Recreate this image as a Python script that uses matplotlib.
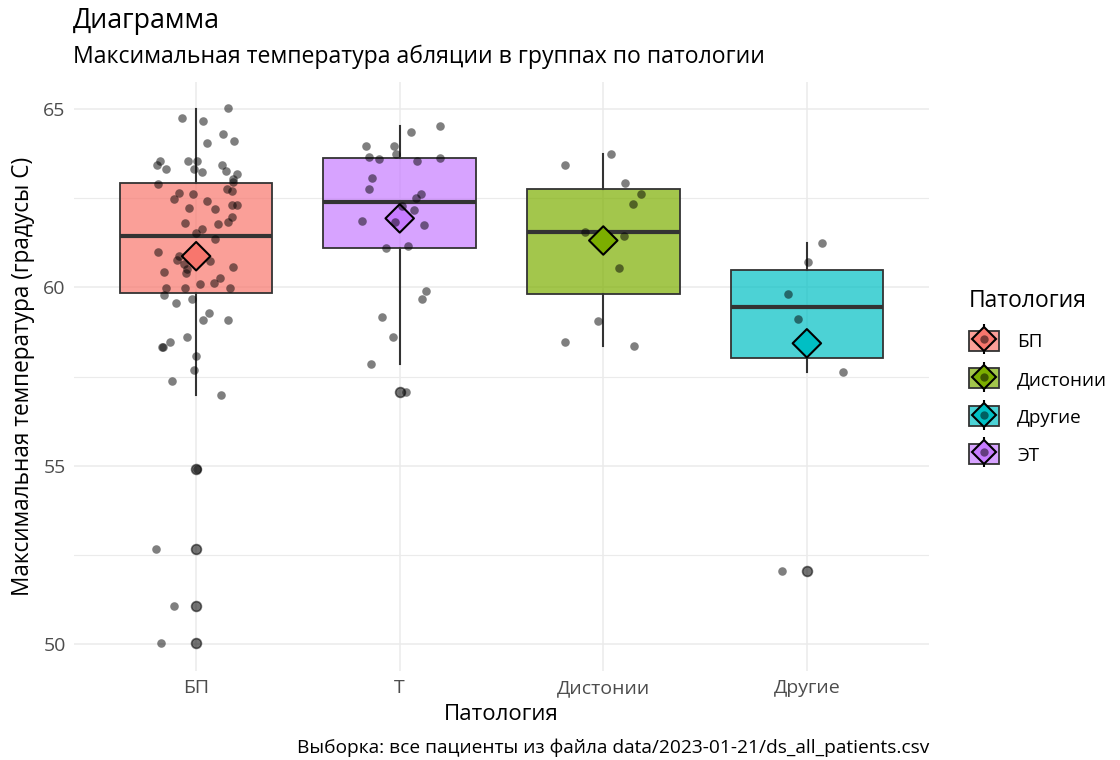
import numpy as np
import matplotlib
matplotlib.use("Agg")
import matplotlib.pyplot as plt
from matplotlib.patches import Patch
from matplotlib.lines import Line2D
from matplotlib.legend_handler import HandlerTuple

plt.rcParams["font.family"] = ["Open Sans", "DejaVu Sans"]

# --- data -------------------------------------------------------------------
groups = ["БП", "Т", "Дистонии", "Другие"]          # x axis order
group_keys = ["БП", "ЭТ", "Дистонии", "Другие"]    # names used in the legend
colors = ["#F8766D", "#C77CFF", "#7CAE00", "#00BFC4"]

# box statistics per group
q1 = [59.84, 61.11, 59.80, 58.01]
med = [61.43, 62.38, 61.55, 59.44]
q3 = [62.93, 63.62, 62.75, 60.49]
whislo = [56.97, 57.85, 58.36, 57.63]
whishi = [65.00, 64.51, 63.72, 61.24]
means = [60.87, 61.93, 61.31, 58.43]

# outliers (drawn at the group centre)
out_bp = [54.91, 52.67, 51.07, 50.03]
out_t = [57.06]
out_dist = []
out_other = [52.05]

# per-patient max temperatures with their jitter offsets
vals_bp = [65.01, 64.73, 64.66, 64.28, 64.11, 64.03, 63.53, 63.42, 63.30, 63.55,
           63.54, 63.32, 63.22, 63.43, 63.27, 63.16, 63.04, 62.94, 62.89, 62.76,
           62.69, 62.65, 62.61, 62.48, 62.42, 62.30, 62.30, 62.23, 62.18, 61.97,
           61.84, 61.81, 61.76, 61.63, 61.52, 61.34, 60.99, 60.87, 60.77, 60.66,
           60.73, 60.57, 60.44, 60.50, 60.40, 60.26, 60.12, 60.09, 59.98, 59.98,
           59.97, 59.78, 59.56, 59.67, 59.28, 59.09, 59.07, 58.48, 58.33, 58.33,
           58.61, 58.07, 57.67, 57.38, 56.97, 54.91, 52.67, 51.07, 50.03]
jit_bp = [0.158, -0.069, 0.033, 0.131, 0.188, 0.052, -0.180, -0.193, -0.147, -0.039,
          0.006, -0.010, 0.029, 0.127, 0.147, 0.199, 0.180, 0.183, -0.185, 0.150,
          0.178, -0.082, -0.013, -0.108, 0.054, 0.175, 0.199, -0.034, 0.092, 0.176,
          0.157, -0.054, 0.109, 0.029, -0.003, 0.095, -0.185, -0.085, -0.095, -0.062,
          0.070, 0.181, -0.158, -0.043, -0.049, 0.119, 0.090, 0.018, -0.148, -0.057,
          0.168, -0.157, -0.101, -0.021, 0.062, 0.034, 0.157, -0.126, -0.167, -0.165,
          -0.047, 0.000, -0.010, -0.121, 0.121, 0.002, -0.196, -0.108, -0.173]

vals_t = [64.51, 64.36, 63.97, 63.95, 63.73, 63.64, 63.58, 63.63, 63.53, 63.07,
          62.76, 62.62, 62.51, 62.29, 62.17, 61.87, 61.82, 61.75, 61.09, 61.15,
          59.89, 59.66, 59.17, 58.61, 57.85, 57.06]
jit_t = [0.196, 0.054, -0.168, -0.029, -0.016, -0.150, -0.101, 0.199, 0.085, -0.134,
         -0.152, 0.103, 0.082, 0.011, 0.070, -0.183, -0.025, 0.118, -0.069, 0.043,
         0.131, 0.108, -0.088, -0.033, -0.142, 0.029]

vals_dist = [63.72, 63.43, 62.91, 62.60, 62.33, 61.54, 61.43, 60.54, 59.05, 58.48, 58.36]
jit_dist = [0.040, -0.186, 0.109, 0.183, 0.147, -0.092, 0.104, 0.075, -0.028, -0.190, 0.150]

vals_other = [61.24, 60.72, 59.80, 59.10, 57.63, 52.05]
jit_other = [0.074, 0.006, -0.095, -0.044, 0.178, -0.124]

# --- figure -----------------------------------------------------------------
fig = plt.figure(figsize=(11.2, 7.6), dpi=100)
ax = fig.add_axes([74 / 1120, 89 / 760, 855 / 1120, 589 / 760])

pos = np.arange(1, len(groups) + 1)
stats = [dict(q1=a, med=b, q3=c, whislo=d, whishi=e, fliers=[])
         for a, b, c, d, e in zip(q1, med, q3, whislo, whishi)]
bp = ax.bxp(stats, positions=pos, widths=0.75, patch_artist=True,
            showcaps=False, showfliers=False,
            boxprops=dict(edgecolor="#333333", linewidth=1.3),
            whiskerprops=dict(color="#333333", linewidth=1.5),
            medianprops=dict(color="#333333", linewidth=3.0, solid_capstyle="butt"),
            zorder=2)
for patch, c in zip(bp["boxes"], colors):
    patch.set_facecolor(matplotlib.colors.to_rgba(c, 0.7))

# outliers from the box plot layer
for p, o in zip(pos, [out_bp, out_t, out_dist, out_other]):
    if o:
        ax.scatter(np.full(len(o), p), o, s=50, color="black", alpha=0.55,
                   linewidths=1.2, zorder=3)

# group means
ax.scatter(pos, means, marker="D", s=210, c=colors, edgecolors="black",
           linewidths=1.5, zorder=4)

# jittered raw values
for p, v, j in zip(pos, [vals_bp, vals_t, vals_dist, vals_other],
                   [jit_bp, jit_t, jit_dist, jit_other]):
    ax.scatter(p + np.asarray(j), v, s=38, color="black", alpha=0.5,
               linewidths=0, zorder=5)

ax.set_xlim(0.4, 4.6)
ax.set_ylim(49.25, 65.75)
ax.set_yticks([50, 55, 60, 65])
ax.set_yticks([52.5, 57.5, 62.5], minor=True)
ax.set_xticks(pos)
ax.set_xticklabels(groups)
ax.grid(True, which="major", color="#EBEBEB", linewidth=1.1)
ax.grid(True, which="minor", axis="y", color="#EBEBEB", linewidth=0.8)
ax.set_axisbelow(True)
for s in ax.spines.values():
    s.set_visible(False)
ax.tick_params(which="both", length=0, labelsize=14, labelcolor="#4D4D4D", pad=6)

ax.set_xlabel("Патология", fontsize=16, labelpad=5)
ax.set_ylabel("Максимальная температура (градусы С)", fontsize=16.3, labelpad=6)

fig.text(73 / 1120, 1 - 28 / 760, "Диаграмма", fontsize=19.3, va="baseline")
fig.text(73 / 1120, 1 - 63 / 760, "Максимальная температура абляции в группах по патологии",
         fontsize=16.6, va="baseline")
fig.text(929 / 1120, 1 - 753 / 760,
         "Выборка: все пациенты из файла data/2023-01-21/ds_all_patients.csv",
         fontsize=13.8, ha="right", va="baseline")

# legend keys combine box fill, whisker, mean diamond and a point
order = [0, 2, 3, 1]
handles = []
for i in order:
    handles.append((
        Line2D([], [], marker="|", markersize=21, markeredgewidth=1.5,
               color="black", linestyle="none"),
        Patch(facecolor=matplotlib.colors.to_rgba(colors[i], 0.7),
              edgecolor="#333333", linewidth=1.3),
        Line2D([], [], marker="D", markersize=12, markerfacecolor=colors[i],
               markeredgecolor="black", markeredgewidth=1.5, linestyle="none"),
        Line2D([], [], marker="o", markersize=6, color="black", alpha=0.5,
               markeredgewidth=0, linestyle="none"),
    ))
fig.legend(handles, [group_keys[i] for i in order], title="Патология",
           loc="upper left", bbox_to_anchor=(952 / 1120, 1 - 272 / 760),
           frameon=False, fontsize=13.6, title_fontsize=16.5,
           handler_map={tuple: HandlerTuple(ndivide=1, pad=0)},
           handlelength=1.6, handleheight=1.25, labelspacing=0.93,
           handletextpad=0.95, alignment="left")

fig.savefig("out.png", dpi=100)
